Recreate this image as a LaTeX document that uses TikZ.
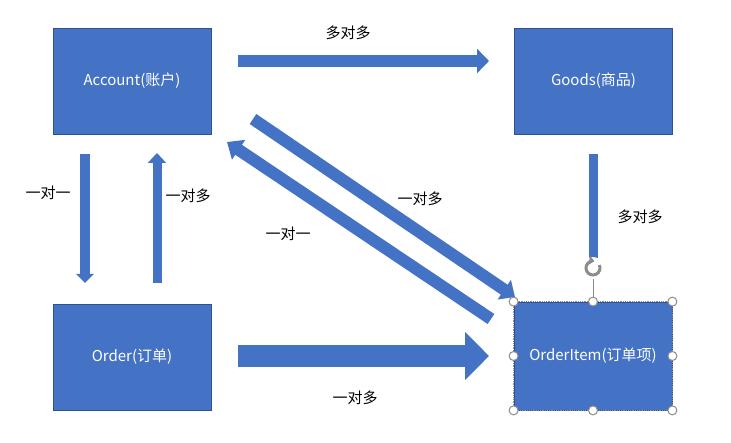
\documentclass[tikz,border=0pt]{standalone}
\usepackage{fontspec}
\setmainfont{Noto Sans CJK SC}
\usetikzlibrary{arrows.meta,calc}
\definecolor{boxc}{HTML}{4472C4}
\definecolor{edgec}{HTML}{2F528F}
\definecolor{handc}{HTML}{8C8C8C}
\begin{document}
\begin{tikzpicture}[x=1pt,y=-1pt,
  entity/.style={draw=edgec,line width=0.8pt,fill=boxc,text=white,minimum width=158pt,minimum height=106pt,inner sep=0pt,font=\fontsize{15}{17}\selectfont},
  lbl/.style={font=\fontsize{15}{17}\selectfont,text=black,inner sep=0pt},
  barrow/.style={draw=boxc,fill=boxc,line cap=butt},
  handle/.style={circle,draw=handc,fill=white,line width=1pt,minimum size=9pt,inner sep=0pt}]
\useasboundingbox (0,0) rectangle (731,443);
% entities
\node[entity] (acc) at (132,81) {Account(账户)};
\node[entity] (goods) at (593.5,81) {Goods(商品)};
\node[entity] (ord) at (132,357) {Order(订单)};
\node[entity,minimum width=158pt,minimum height=108pt] (oi) at (593,356) {OrderItem(订单项)};
% arrow end points
\coordinate (a1) at (238,61); \coordinate (a2) at (489,61);
\coordinate (b1) at (238,356); \coordinate (b2) at (489,356);
\coordinate (c1) at (85,154); \coordinate (c2) at (85,283);
\coordinate (d1) at (157,283); \coordinate (d2) at (157,153);
\coordinate (e1) at (593,154); \coordinate (e2) at (593,277);
\coordinate (f1) at (253,119); \coordinate (f2) at (515,297);
\coordinate (g1) at (491,319); \coordinate (g2) at (227,142);
% block arrows
\draw[barrow,line width=12pt,-{Triangle[width=24pt,length=12pt]}] (a1) -- (a2);
\draw[barrow,line width=22pt,-{Triangle[width=47pt,length=24pt]}] (b1) -- (b2);
\draw[barrow,line width=10pt,-{Triangle[width=17pt,length=9pt]}] (c1) -- (c2);
\draw[barrow,line width=9pt,-{Triangle[width=18pt,length=10pt]}] (d1) -- (d2);
\draw[barrow,line width=9pt,-{Triangle[width=18pt,length=10pt]}] (e1) -- (e2);
\draw[barrow,line width=12pt,-{Triangle[width=23pt,length=13pt]}] (f1) -- (f2);
\draw[barrow,line width=12pt,-{Triangle[width=23pt,length=14pt]}] (g1) -- (g2);
% labels
\node[lbl] (l1) at (348,33) {多对多};
\node[lbl] (l2) at (355,398) {一对多};
\node[lbl] (l3) at (48,193) {一对一};
\node[lbl] (l4) at (188,196) {一对多};
\node[lbl] (l5) at (640,217) {多对多};
\node[lbl] (l6) at (420,199) {一对多};
\node[lbl] (l7) at (288,234) {一对一};
% selection frame of OrderItem
\draw[handc,densely dotted,line width=0.8pt] (oi.north west) rectangle (oi.south east);
\coordinate (rot) at (593,268);
\draw[handc,line width=0.8pt] (oi.north) -- (rot);
\node[circle,fill=white,inner sep=0pt,minimum size=22pt] (rh) at (rot) {};
\draw[handc,line width=3pt,-{Triangle[width=9pt,length=5pt]}] ($(rot)+(25:7pt)$) arc[start angle=25,end angle=-280,radius=7pt];
\foreach \p in {north west,north,north east,east,south east,south,south west,west}
  \node[handle] at (oi.\p) {};
\end{tikzpicture}
\end{document}
